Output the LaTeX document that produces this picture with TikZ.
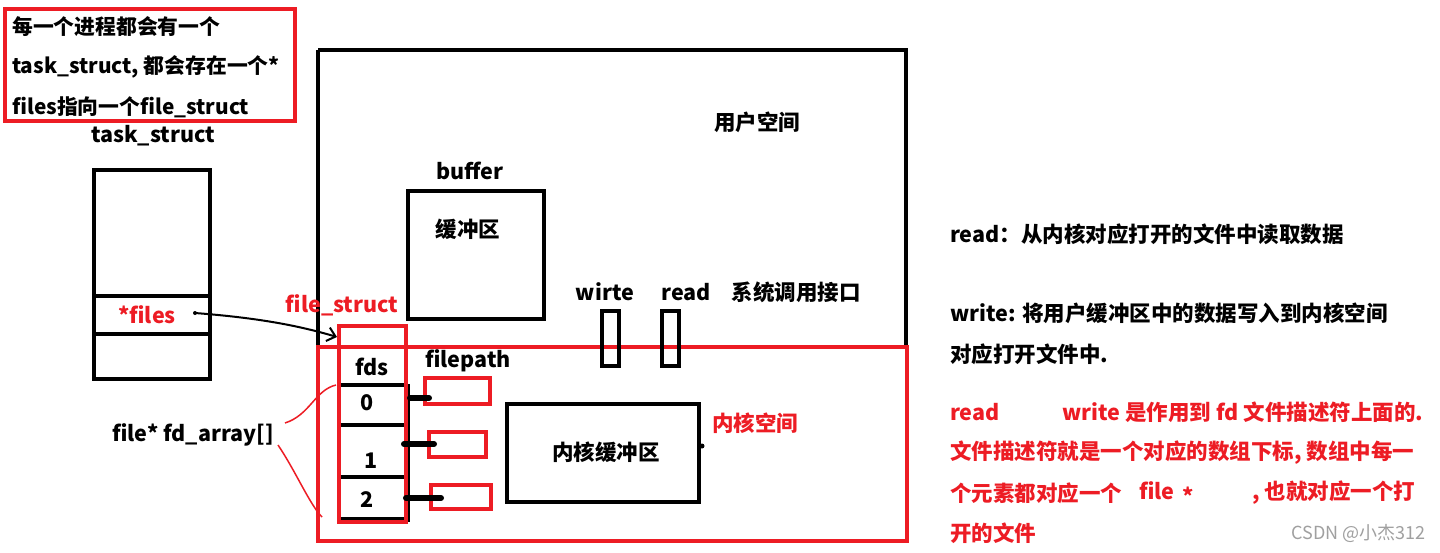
\documentclass[tikz,border=0pt]{standalone}
\usepackage{fontspec}
\setmainfont{Noto Sans CJK SC}
\usetikzlibrary{arrows.meta}
\definecolor{pred}{HTML}{ED1C24}
\definecolor{wm}{HTML}{A0A0A0}
\begin{document}
\begin{tikzpicture}[x=1pt,y=-1pt,
  every node/.style={font=\bfseries\fontsize{21.5}{24}\selectfont, inner sep=0pt},
  blk/.style={draw=black, line width=4pt},
  rdl/.style={draw=pred, line width=4pt},
  redtxt/.style={text=pred},
  smalltxt/.style={font=\bfseries\fontsize{20.8}{24}\selectfont},
  fdptr/.style={line width=6pt, line cap=round}]
\useasboundingbox (0,0) rectangle (1440,552);
\fill[white] (0,0) rectangle (1440,552);

% note box top-left
\draw[rdl] (5,9) rectangle (295,121);
\node[anchor=west, smalltxt] (n1) at (12,27) {每一个进程都会有一个};
\node[anchor=west, smalltxt] (n2) at (12,67) {task\_struct, 都会存在一个*};
\node[anchor=west, smalltxt] (n3) at (12,107) {files指向一个file\_struct};
\node (tslbl) at (153,136) {task\_struct};

% task_struct box
\draw[blk] (94,170) rectangle (210,379);
\draw[blk] (94,296) -- (210,296);
\draw[blk] (94,334) -- (210,334);
\node[redtxt] (files) at (147,315) {*files};
\coordinate (filesdot) at (195,313);

% user space big box
\draw[blk] (318,50) -- (906,50) -- (906,346);
\draw[blk] (318,50) -- (318,346);
\node (user) at (757,122) {用户空间};

% buffer
\node (buflbl) at (470,171) {buffer};
\draw[blk] (408,191) rectangle (544,319);
\node (buf) at (468,229) {缓冲区};

% syscalls
\node (wlbl) at (605,292) {wirte};
\node (rlbl) at (686,292) {read};
\node (sys) at (796,292) {系统调用接口};

% kernel space red box
\draw[rdl] (318,347) rectangle (907,541);
\node[redtxt] (kern) at (755,423) {内核空间};

% syscall boxes
\draw[blk] (602,311) rectangle (619,366);
\draw[blk] (662,311) rectangle (679,366);

% file_struct
\node[redtxt] (fslbl) at (342,305) {file\_struct};
\draw[blk] (340,385) -- (406,385);
\draw[blk] (340,425) -- (406,425);
\draw[blk] (340,477) -- (406,477);
\draw[blk] (340,519) -- (406,519);
\draw[blk] (408,384) -- (408,522);
\draw[rdl] (339,326) rectangle (406,522);
\node (fds) at (372,367) {fds};
\node (f0) at (367,403) {0};
\node (f1) at (371,461) {1};
\node (f2) at (367,500) {2};
\coordinate (fsin) at (337,337);

% pointer arrow
\draw[line width=2pt, -{Straight Barb[length=8pt,width=14pt]}] (filesdot) .. controls (260,318) and (300,326) .. (fsin);
\fill (filesdot) circle (2pt);

% fd_array label and red braces
\node (fda) at (193,435) {file* fd\_array[]};
\draw[pred, line width=1.5pt] (285,423) .. controls (310,415) and (315,390) .. (336,385);
\draw[pred, line width=1.5pt] (278,445) .. controls (295,470) and (310,505) .. (322,517);

% filepath
\node (fp) at (468,361) {filepath};
\draw[pred, line width=3.5pt] (425,378) rectangle (490,404);
\draw[pred, line width=3.5pt] (429,432) rectangle (486,457);
\draw[pred, line width=3.5pt] (431,485) rectangle (491,509);
\coordinate (p0) at (429,398);
\coordinate (p1) at (434,444);
\coordinate (p2) at (441,498);
\coordinate (s0) at (410,398);
\coordinate (s1) at (404,444);
\coordinate (s2) at (406,498);
\draw[fdptr] (s0) -- (p0);
\draw[fdptr] (s1) -- (p1);
\draw[fdptr] (s2) -- (p2);

% kernel buffer
\draw[blk] (507,404) rectangle (699,502);
\node (kbuf) at (606,452) {内核缓冲区};
\fill (702,446) circle (2.5pt);

% right text
\node[anchor=west] (t1) at (950,234) {read：从内核对应打开的文件中读取数据};
\node[anchor=west] (t2) at (950,313) {write: 将用户缓冲区中的数据写入到内核空间};
\node[anchor=west] (t3) at (950,354) {对应打开文件中.};
\node[anchor=west, redtxt] (t4a) at (950,412) {read};
\node[anchor=west, redtxt] (t4b) at (1062,412) {write 是作用到 fd 文件描述符上面的.};
\node[anchor=west, redtxt] (t5) at (950,453) {文件描述符就是一个对应的数组下标, 数组中每一};
\node[anchor=west, redtxt] (t6a) at (950,493) {个元素都对应一个};
\node[anchor=west, redtxt] (t6b) at (1139,491) {file};
\node[anchor=west, redtxt] (t6c) at (1182,496) {*};
\node[anchor=west, redtxt] (t6d) at (1252,493) {, 也就对应一个打};
\node[anchor=west, redtxt] (t7) at (950,533) {开的文件};
\node[anchor=east, text=wm, font=\mdseries\fontsize{18}{20}\selectfont] (wmk) at (1426,533) {CSDN @小杰312};
\end{tikzpicture}
\end{document}
